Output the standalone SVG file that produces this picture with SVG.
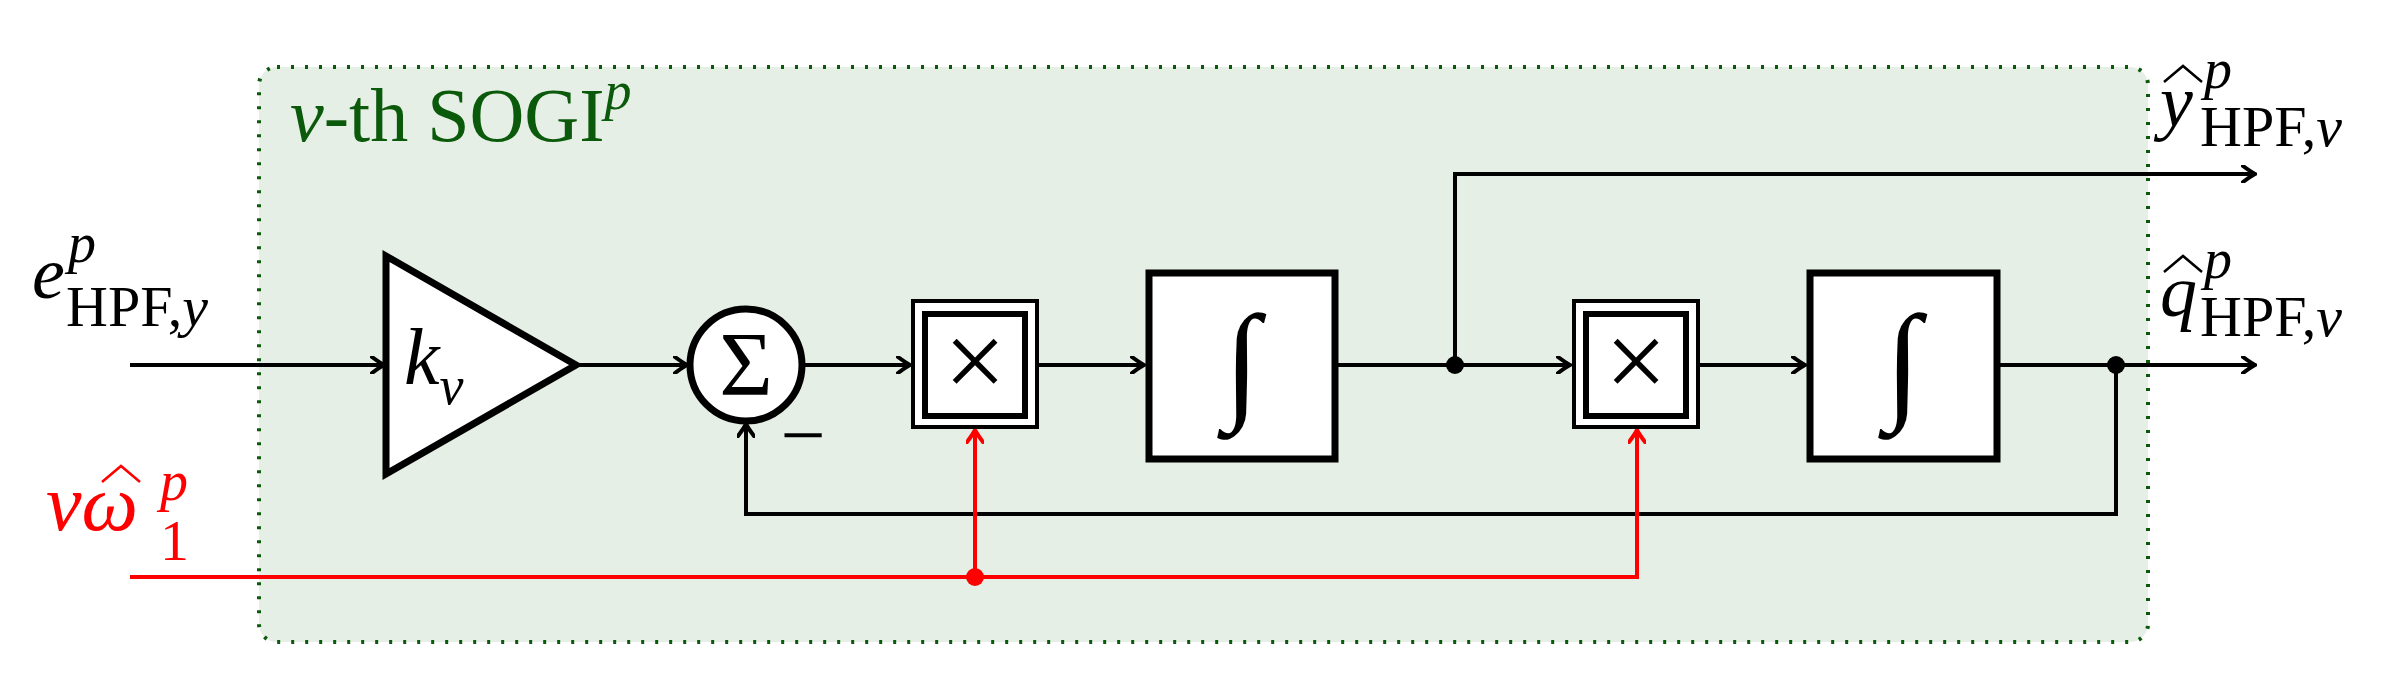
<svg xmlns="http://www.w3.org/2000/svg" width="2381" height="673" viewBox="0 0 2381 673">
<style>
.ln{fill:none;stroke:#000;stroke-width:4}
.rd{fill:none;stroke:#f00;stroke-width:4}
.blk{fill:#fff;stroke:#000;stroke-width:7}
.t{font-family:"Liberation Serif",serif;fill:#000}
.i{font-style:italic}
.hat{fill:none;stroke-width:2.5}
</style>
<defs>
<marker id="a" viewBox="-14 -9 16 18" markerWidth="16" markerHeight="18" refX="0" refY="0" orient="auto" markerUnits="userSpaceOnUse">
<path d="M-12,-8 Q-4,-2 0,0 Q-4,2 -12,8" fill="none" stroke="#000" stroke-width="4" stroke-linecap="round"/>
</marker>
<marker id="ar" viewBox="-14 -9 16 18" markerWidth="16" markerHeight="18" refX="0" refY="0" orient="auto" markerUnits="userSpaceOnUse">
<path d="M-12,-8 Q-4,-2 0,0 Q-4,2 -12,8" fill="none" stroke="#f00" stroke-width="4" stroke-linecap="round"/>
</marker>
</defs>
<g id="frame">
<rect x="259" y="67" width="1889" height="575" rx="18" fill="#e5efe5" stroke="#0b5a0b" stroke-width="4" stroke-dasharray="3 11"/>
<text x="290" y="141" font-size="76" class="t" style="fill:#0b5a0b"><tspan class="i">ν</tspan>-th SOGI<tspan class="i" font-size="54" dy="-32">p</tspan></text>
</g>
<g id="connectors">
<path class="ln" d="M130,365 H384" marker-end="url(#a)"/>
<path class="ln" d="M578,365 H687" marker-end="url(#a)"/>
<path class="ln" d="M803,365 H910" marker-end="url(#a)"/>
<path class="ln" d="M1038,365 H1144" marker-end="url(#a)"/>
<path class="ln" d="M1337,365 H1570" marker-end="url(#a)"/>
<path class="ln" d="M1700,365 H1805" marker-end="url(#a)"/>
<path class="ln" d="M1999,365 H2255" marker-end="url(#a)"/>
<path class="ln" d="M1455,365 V174 H2255" marker-end="url(#a)"/>
<path class="ln" d="M2116,365 V514 H746 V424" marker-end="url(#a)"/>
<path class="rd" d="M130,577 H1637 V430" marker-end="url(#ar)"/>
<path class="rd" d="M975,577 V430" marker-end="url(#ar)"/>
<circle cx="1455" cy="365" r="9"/>
<circle cx="2116" cy="365" r="9"/>
<circle cx="975" cy="577" r="9" fill="#f00"/>
</g>
<g id="gain">
<path class="blk" d="M386,256 L576,365 L386,474 Z"/>
<text x="404" y="384" font-size="80" class="t i">k<tspan font-size="54" dy="20">ν</tspan></text>
</g>
<g id="sum">
<circle cx="746" cy="365" r="56" class="blk" stroke-width="6"/>
<text x="746" y="395" font-size="92" class="t" text-anchor="middle">Σ</text>
<text x="803" y="462" font-size="80" class="t" text-anchor="middle">−</text>
</g>
<g id="mult1">
<rect x="913" y="301" width="124" height="126" fill="#fff" stroke="#000" stroke-width="4"/>
<rect x="925" y="314" width="100" height="102" fill="#fff" stroke="#000" stroke-width="6"/>
<text x="975" y="398" font-size="110" class="t" text-anchor="middle" font-weight="100">×</text>
</g>
<g id="int1">
<rect x="1149" y="273" width="186" height="186" class="blk"/>
<text x="1242" y="405" font-size="130" class="t i" text-anchor="middle">∫</text>
</g>
<g id="mult2">
<rect x="1574" y="301" width="124" height="126" fill="#fff" stroke="#000" stroke-width="4"/>
<rect x="1586" y="314" width="100" height="102" fill="#fff" stroke="#000" stroke-width="6"/>
<text x="1636" y="398" font-size="110" class="t" text-anchor="middle">×</text>
</g>
<g id="int2">
<rect x="1810" y="273" width="187" height="186" class="blk"/>
<text x="1903" y="405" font-size="130" class="t i" text-anchor="middle">∫</text>
</g>
<g id="labels">
<text x="32" y="298" font-size="74" class="t i">e<tspan x="68" y="262" font-size="56">p</tspan><tspan x="66" y="326" font-size="58" font-style="normal">HPF,</tspan><tspan font-size="58">y</tspan></text>
<text x="46" y="530" font-size="80" class="t i" style="fill:#f00">νω<tspan x="160" y="500" font-size="56">p</tspan><tspan x="160" y="560" font-size="58" font-style="normal">1</tspan></text>
<path class="hat" stroke="#f00" d="M102,482 L121,466 L140,482"/>
<text x="2160" y="126" font-size="74" class="t i">y<tspan x="2204" y="88" font-size="56">p</tspan><tspan x="2200" y="146" font-size="58" font-style="normal">HPF,</tspan><tspan font-size="58">ν</tspan></text>
<path class="hat" stroke="#000" d="M2164,82 L2183,66 L2202,82"/>
<text x="2160" y="316" font-size="74" class="t i">q<tspan x="2204" y="278" font-size="56">p</tspan><tspan x="2200" y="336" font-size="58" font-style="normal">HPF,</tspan><tspan font-size="58">ν</tspan></text>
<path class="hat" stroke="#000" d="M2164,272 L2183,256 L2202,272"/>
</g>
</svg>
